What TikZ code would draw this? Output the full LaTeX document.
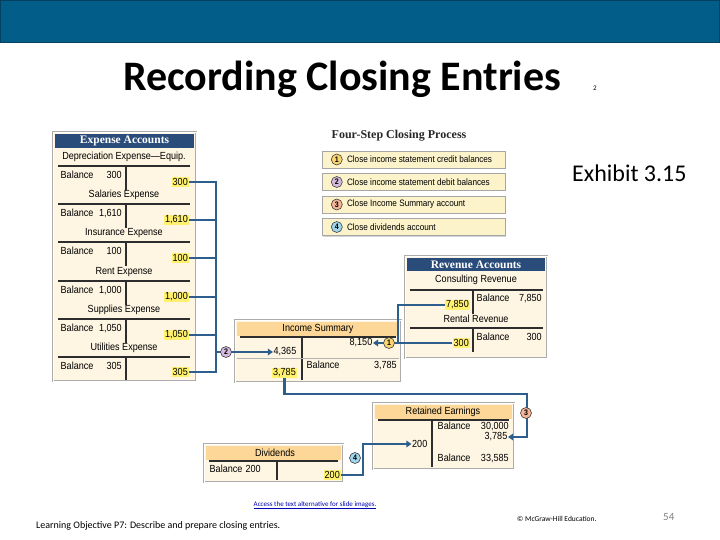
\documentclass[tikz,border=0pt]{standalone}
\usepackage{fontspec}
\setmainfont{Carlito}
\newfontfamily\acctfont[FakeStretch=0.88]{Liberation Sans}
\newfontfamily\hdrfont{Liberation Serif}
\usetikzlibrary{arrows.meta,positioning,calc,shadows}
\definecolor{barBlue}{RGB}{2,93,137}
\definecolor{hdrNavy}{RGB}{42,76,122}
\definecolor{panelCream}{RGB}{254,245,226}
\definecolor{bandOrange}{RGB}{252,215,152}
\definecolor{linkBlue}{RGB}{46,94,140}
\definecolor{hiYellow}{RGB}{255,241,110}
\definecolor{stepYellow}{RGB}{252,243,203}
\definecolor{numOne}{RGB}{248,213,110}
\definecolor{numTwo}{RGB}{214,186,222}
\definecolor{numThree}{RGB}{245,180,150}
\definecolor{numFour}{RGB}{160,214,236}
\definecolor{tLine}{RGB}{45,45,45}

\begin{document}
\begin{tikzpicture}[x=1pt,y=-1pt,
    panel/.style={draw=gray!65,fill=panelCream,line width=0.6pt,
                  double=white,double distance=0.8pt},
    hdr/.style={fill=hdrNavy,text=white,inner sep=0pt,
                font=\hdrfont\bfseries\fontsize{11.5}{12}\selectfont},
    band/.style={fill=bandOrange},
    acct/.style={font=\acctfont\fontsize{10.3}{11}\selectfont,inner sep=0.5pt},
    amt/.style={acct,fill=hiYellow,inner sep=1pt},
    tacct/.style={draw=tLine,line width=1.5pt},
    link/.style={draw=linkBlue,line width=2.8pt},
    arr/.style={link,-{Triangle[length=5pt,width=6.5pt]}},
    num/.style={circle,draw=black!75,line width=0.6pt,inner sep=0pt,
                minimum size=11pt,font=\acctfont\bfseries\fontsize{8}{8}\selectfont},
    stepbox/.style={draw=gray!70,fill=stepYellow,minimum width=183pt,
                    minimum height=17pt,
                    drop shadow={shadow xshift=1pt,shadow yshift=-1pt,opacity=0.35}},
    steptxt/.style={font=\acctfont\fontsize{9.3}{10}\selectfont,
                    inner sep=0pt,anchor=west}]
  \useasboundingbox (0,0) rectangle (720,540);
  \fill[barBlue] (0,0) rectangle (720,43);
  \draw[barBlue!70!black,line width=1pt] (0.5,0.5) rectangle (719.5,43);

  \node[anchor=base west,inner sep=0pt,font=\bfseries\fontsize{42}{44}\selectfont]
    (title) at (123,91) {Recording Closing Entries};
  \node[anchor=base west,inner sep=0pt,font=\fontsize{7}{8}\selectfont]
    (titleNote) at (593,91) {2};
  \node[anchor=base west,inner sep=0pt,font=\fontsize{24}{26}\selectfont]
    (exhibit) at (572,182) {Exhibit 3.15};

  % expense accounts
  \draw[panel] (53,132) rectangle (196,381);
  \node[hdr,minimum width=139pt,minimum height=14pt] (expHdr) at (124.5,141) {Expense Accounts};
  \node[acct] (depTitle) at (124,157) {Depreciation Expense—Equip.};
  \draw[tacct] (58,166) -- (190,166) (126,166) -- (126,190);
  \node[acct,anchor=west] (depBal) at (60,175) {\hbox to 61pt{Balance\hfill 300}};
  \node[amt,anchor=east] (depAmt) at (189,182) {300};
  \node[acct] (salTitle) at (124,195) {Salaries Expense};
  \draw[tacct] (58,204) -- (190,204) (126,204) -- (126,228);
  \node[acct,anchor=west] (salBal) at (60,213) {\hbox to 61pt{Balance\hfill 1,610}};
  \node[amt,anchor=east] (salAmt) at (189,220) {1,610};
  \node[acct] (insTitle) at (124,233) {Insurance Expense};
  \draw[tacct] (58,242) -- (190,242) (126,242) -- (126,266);
  \node[acct,anchor=west] (insBal) at (60,251) {\hbox to 61pt{Balance\hfill 100}};
  \node[amt,anchor=east] (insAmt) at (189,258) {100};
  \node[acct] (rntTitle) at (124,272) {Rent Expense};
  \draw[tacct] (58,281) -- (190,281) (126,281) -- (126,305);
  \node[acct,anchor=west] (rntBal) at (60,290) {\hbox to 61pt{Balance\hfill 1,000}};
  \node[amt,anchor=east] (rntAmt) at (189,297) {1,000};
  \node[acct] (supTitle) at (124,310) {Supplies Expense};
  \draw[tacct] (58,319) -- (190,319) (126,319) -- (126,343);
  \node[acct,anchor=west] (supBal) at (60,328) {\hbox to 61pt{Balance\hfill 1,050}};
  \node[amt,anchor=east] (supAmt) at (189,335) {1,050};
  \node[acct] (utiTitle) at (124,348) {Utilities Expense};
  \draw[tacct] (58,357) -- (190,357) (126,357) -- (126,380);
  \node[acct,anchor=west] (utiBal) at (60,366) {\hbox to 61pt{Balance\hfill 305}};
  \node[amt,anchor=east] (utiAmt) at (189,372) {305};

  % four steps
  \node[font=\hdrfont\bfseries\fontsize{12}{13}\selectfont,text=black!85,inner sep=0pt]
    (stepHead) at (399,136) {Four-Step Closing Process};
  \node[stepbox] (s1) at (413.5,159.5) {};
  \node[num,fill=numOne] (n1) at ([xshift=15pt]s1.west) {1};
  \node[steptxt] (t1) at ([xshift=10pt]n1.center) {Close income statement credit balances};
  \node[stepbox] (s2) at (413.5,182) {};
  \node[num,fill=numTwo] (n2) at ([xshift=15pt]s2.west) {2};
  \node[steptxt] (t2) at ([xshift=10pt]n2.center) {Close income statement debit balances};
  \node[stepbox] (s3) at (413.5,204.5) {};
  \node[num,fill=numThree] (n3) at ([xshift=15pt]s3.west) {3};
  \node[steptxt] (t3) at ([xshift=10pt]n3.center) {Close Income Summary account};
  \node[stepbox] (s4) at (413.5,227) {};
  \node[num,fill=numFour] (n4) at ([xshift=15pt]s4.west) {4};
  \node[steptxt] (t4) at ([xshift=10pt]n4.center) {Close dividends account};

  % revenue accounts
  \draw[panel] (405,256) rectangle (547,358);
  \node[hdr,minimum width=138pt,minimum height=13pt] (revHdr) at (476,264.5) {Revenue Accounts};
  \node[acct] (conTitle) at (476,280) {Consulting Revenue};
  \draw[tacct] (410,290) -- (543,290) (473,290) -- (473,314);
  \node[acct,anchor=west] (conBal) at (476,298) {\hbox to 65pt{Balance\hfill 7,850}};
  \node[amt,anchor=east] (conAmt) at (470,305) {7,850};
  \node[acct] (renTitle) at (476,319) {Rental Revenue};
  \draw[tacct] (410,328) -- (543,328) (473,328) -- (473,352);
  \node[acct,anchor=west] (renBal) at (476,337) {\hbox to 65pt{Balance\hfill 300}};
  \node[amt,anchor=east] (renAmt) at (470,343) {300};

  % income summary
  \draw[panel] (235,320) rectangle (401,382);
  \fill[band] (237,322) rectangle (399,336);
  \node[acct] (isTitle) at (318,329) {Income Summary};
  \draw[tacct] (240,337) -- (396,337) (302,337) -- (302,380);
  \draw[gray!60,line width=0.8pt] (237,358) -- (399,358);
  \node[acct,anchor=east] (isCr) at (373,343) {8,150};
  \node[acct,anchor=east] (isDr) at (297,352) {4,365};
  \node[acct,anchor=west] (isBal) at (306,365) {\hbox to 90pt{Balance\hfill 3,785}};
  \node[amt,anchor=east] (isAmt) at (297,373) {3,785};

  % retained earnings
  \draw[panel] (373,403) rectangle (514,469);
  \fill[band] (375,405) rectangle (512,419);
  \node[acct] (reTitle) at (443,412) {Retained Earnings};
  \draw[tacct] (378,420) -- (509,420) (432,420) -- (432,467);
  \node[acct,anchor=west] (reBalA) at (437,426.5) {\hbox to 71pt{Balance\hfill 30,000}};
  \node[acct,anchor=east] (reCr) at (508,437) {3,785};
  \node[acct,anchor=east] (reDr) at (428,444) {200};
  \node[acct,anchor=west] (reBalB) at (437,458) {\hbox to 71pt{Balance\hfill 33,585}};

  % dividends
  \draw[panel] (204,444) rectangle (343,482);
  \fill[band] (206,446) rectangle (341,460);
  \node[acct] (divTitle) at (275,453) {Dividends};
  \draw[tacct] (209,461) -- (338,461) (277,461) -- (277,480);
  \node[acct,anchor=west] (divBal) at (209,469) {\hbox to 51pt{Balance\hfill 200}};
  \node[amt,anchor=east] (divAmt) at (341,475) {200};

  % closing links
  \coordinate (expBus) at (216,182);
  \coordinate (stepTwoTap) at (216,352);
  \draw[link] (depAmt.east) -- (depAmt.east -| expBus) -- (utiAmt.east -| expBus) -- (utiAmt.east);
  \draw[link] (salAmt.east) -- (salAmt.east -| expBus);
  \draw[link] (insAmt.east) -- (insAmt.east -| expBus);
  \draw[link] (rntAmt.east) -- (rntAmt.east -| expBus);
  \draw[link] (supAmt.east) -- (supAmt.east -| expBus);
  \draw[arr] (stepTwoTap) -- (isDr.west);
  \node[num,fill=numTwo] (c2) at (226,352) {2};

  \coordinate (revBus) at (398,305);
  \draw[link] (conAmt.west) -- (conAmt.west -| revBus) -- (renAmt.west -| revBus);
  \draw[arr] (renAmt.west) -- (isCr.east);
  \node[num,fill=numOne] (c1) at (389,343) {1};

  \coordinate (reBus) at (527,394);
  \draw[arr] (isAmt.south) |- (reBus) |- (reCr.east);
  \node[num,fill=numThree] (c3) at (526,413) {3};

  \coordinate (divBus) at (363,475);
  \draw[arr] (divAmt.east) -- (divBus) |- (reDr.west);
  \node[num,fill=numFour] (c4) at (355,458) {4};

  % footer
  \node[anchor=base,inner sep=0pt,font=\fontsize{7}{8}\selectfont,text=blue!70!black]
    (altText) at (315,506) {\underline{Access the text alternative for slide images.}};
  \node[anchor=base west,inner sep=0pt,font=\fontsize{10}{12}\selectfont]
    (objective) at (36,528) {Learning Objective P7: Describe and prepare closing entries.};
  \node[anchor=base west,inner sep=0pt,font=\fontsize{7.5}{8}\selectfont]
    (copyright) at (517,521) {© McGraw-Hill Education.};
  \node[anchor=base west,inner sep=0pt,font=\fontsize{11}{12}\selectfont,text=gray]
    (pageNo) at (663,520) {54};
\end{tikzpicture}
\end{document}
